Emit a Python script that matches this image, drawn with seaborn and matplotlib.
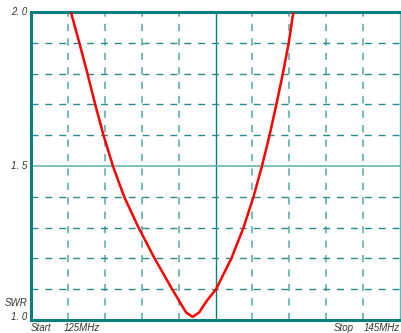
import matplotlib
matplotlib.use("Agg")
import matplotlib.pyplot as plt
import seaborn as sns
import pandas as pd
import numpy as np

sns.set_style("white")
plt.rcParams['font.family'] = ['Liberation Sans', 'DejaVu Sans']

# SWR sweep (MHz, SWR)
freq_mhz = [127.16, 127.62, 128.06, 128.48, 128.93, 129.44, 130.05, 130.83,
            131.70, 132.65, 133.05, 133.40, 133.76, 134.12, 134.50, 135.03,
            135.86, 136.52, 137.06, 137.52, 137.93, 138.30, 138.65, 138.97, 139.22]
swr = [2.00, 1.90, 1.80, 1.70, 1.60, 1.50, 1.40, 1.30,
       1.20, 1.10, 1.06, 1.025, 1.01, 1.025, 1.06, 1.10,
       1.20, 1.30, 1.40, 1.50, 1.60, 1.70, 1.80, 1.90, 2.00]

f_start, f_stop = 125, 145
swr_min, swr_max = 1.0, 2.0

df = pd.DataFrame({'freq': freq_mhz, 'swr': swr})

teal = '#0a7f7f'
grid_dark = '#2a8c8c'
grid_light = '#6ab5b5'

fig = plt.figure(figsize=(4.01, 3.33), dpi=100)
ax = fig.add_axes([31 / 401, 13 / 333, 369 / 401, 308 / 333])

# screen graticule: 10 x 10, centre column and 1.5 row solid
xs = np.linspace(f_start, f_stop, 11)[1:-1]
ys = np.linspace(swr_min, swr_max, 11)[1:-1]
for x in xs:
    if abs(x - 135) < 1e-6:
        ax.axvline(x, color=teal, lw=1.0, zorder=1)
    else:
        ax.axvline(x, color=grid_light, lw=1.3, dashes=(4, 4), zorder=1)
for y in ys:
    if abs(y - 1.5) < 1e-6:
        ax.axhline(y, color=grid_light, lw=1.2, zorder=1)
    else:
        ax.axhline(y, color=grid_dark, lw=1.0, dashes=(5, 5), zorder=1)

sns.lineplot(data=df, x='freq', y='swr', ax=ax, color='#ff0000', lw=1.8,
             sort=False, estimator=None, zorder=3, solid_joinstyle='round')

ax.set_xlim(f_start, f_stop)
ax.set_ylim(swr_min, swr_max)
ax.set_xticks([])
ax.set_yticks([])
ax.set_xlabel('')
ax.set_ylabel('')

for side in ['top', 'left', 'bottom']:
    ax.spines[side].set_color(teal)
    ax.spines[side].set_linewidth(2.2)
ax.spines['right'].set_color(grid_light)
ax.spines['right'].set_linewidth(1.0)

txt = dict(fontsize=7, style='italic', color='#333333')
ax.text(-0.01, 1.0, '2. 0', ha='right', va='center', transform=ax.transAxes, **txt)
ax.text(-0.01, 0.5, '1. 5', ha='right', va='center', transform=ax.transAxes, **txt)
ax.text(-0.01, 0.01, '1. 0', ha='right', va='center', transform=ax.transAxes, **txt)
ax.text(-0.01, 0.055, 'SWR', ha='right', va='center', transform=ax.transAxes, **txt)
ax.text(0.0, -0.025, 'Start', ha='left', va='center', transform=ax.transAxes, **txt)
ax.text(0.09, -0.025, '125MHz', ha='left', va='center', transform=ax.transAxes, **txt)
ax.text(0.82, -0.025, 'Stop', ha='left', va='center', transform=ax.transAxes, **txt)
ax.text(1.0, -0.025, '145MHz', ha='right', va='center', transform=ax.transAxes, **txt)

fig.savefig('out.png', dpi=100, facecolor='white')
